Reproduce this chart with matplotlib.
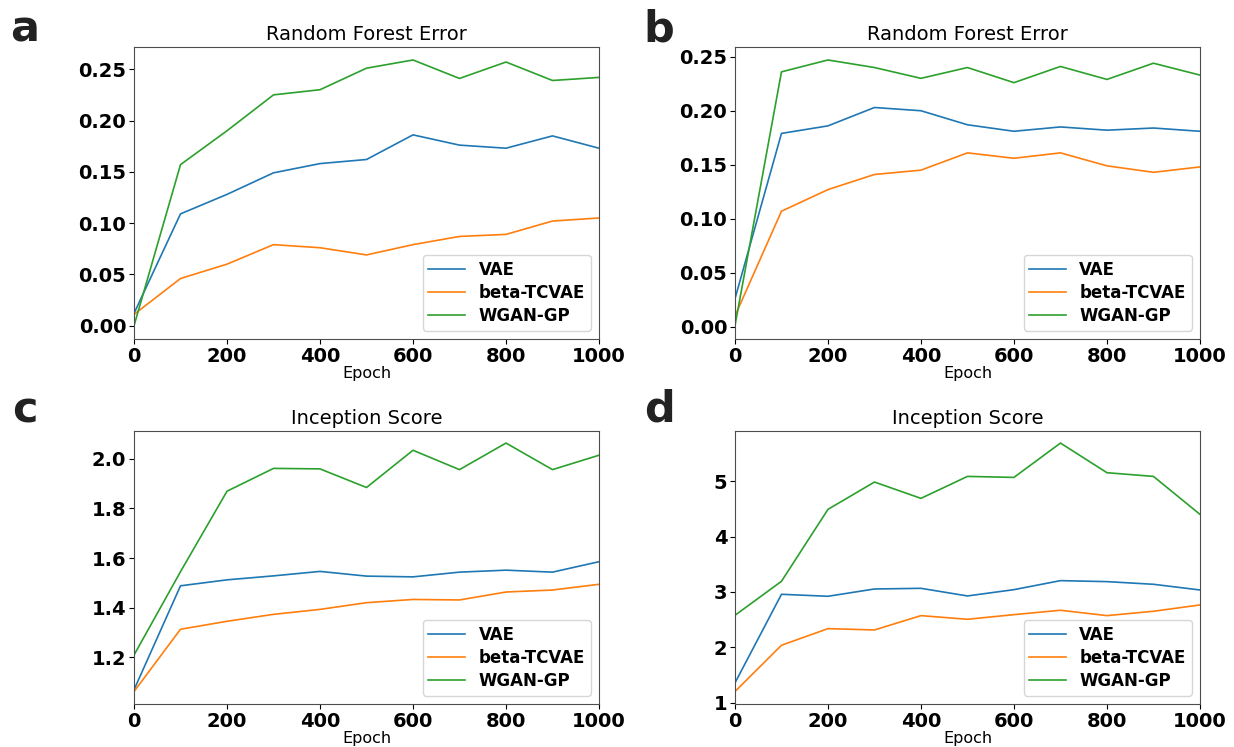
import matplotlib.pyplot as plt

epochs = [0, 100, 200, 300, 400, 500, 600, 700, 800, 900, 1000]
labels = ['VAE', 'beta-TCVAE', 'WGAN-GP']

# panel a - random forest error
rf_a_vae = [0.012, 0.109, 0.128, 0.149, 0.158, 0.162, 0.186, 0.176, 0.173, 0.185, 0.173]
rf_a_tcvae = [0.011, 0.046, 0.060, 0.079, 0.076, 0.069, 0.079, 0.087, 0.089, 0.102, 0.105]
rf_a_wgan = [0.000, 0.157, 0.190, 0.225, 0.230, 0.251, 0.259, 0.241, 0.257, 0.239, 0.242]

# panel b - random forest error
rf_b_vae = [0.026, 0.179, 0.186, 0.203, 0.200, 0.187, 0.181, 0.185, 0.182, 0.184, 0.181]
rf_b_tcvae = [0.010, 0.107, 0.127, 0.141, 0.145, 0.161, 0.156, 0.161, 0.149, 0.143, 0.148]
rf_b_wgan = [0.001, 0.236, 0.247, 0.240, 0.230, 0.240, 0.226, 0.241, 0.229, 0.244, 0.233]

# panel c - inception score
is_c_vae = [1.069, 1.488, 1.512, 1.528, 1.546, 1.527, 1.524, 1.543, 1.551, 1.543, 1.585]
is_c_tcvae = [1.062, 1.313, 1.345, 1.373, 1.393, 1.420, 1.433, 1.431, 1.463, 1.471, 1.494]
is_c_wgan = [1.209, 1.545, 1.869, 1.961, 1.959, 1.884, 2.034, 1.956, 2.063, 1.956, 2.014]

# panel d - inception score
is_d_vae = [1.355, 2.958, 2.922, 3.054, 3.066, 2.928, 3.042, 3.205, 3.187, 3.139, 3.036]
is_d_tcvae = [1.199, 2.036, 2.337, 2.313, 2.572, 2.506, 2.590, 2.669, 2.572, 2.651, 2.765]
is_d_wgan = [2.578, 3.193, 4.494, 4.988, 4.693, 5.090, 5.072, 5.693, 5.157, 5.090, 4.404]

panels = [
    ('a', 'Random Forest Error', [rf_a_vae, rf_a_tcvae, rf_a_wgan]),
    ('b', 'Random Forest Error', [rf_b_vae, rf_b_tcvae, rf_b_wgan]),
    ('c', 'Inception Score', [is_c_vae, is_c_tcvae, is_c_wgan]),
    ('d', 'Inception Score', [is_d_vae, is_d_tcvae, is_d_wgan]),
]

# axes rectangles in figure fractions (left, bottom, width, height)
rects = [
    [0.1086, 0.5462, 0.3768, 0.3913],
    [0.5956, 0.5462, 0.3768, 0.3913],
    [0.1086, 0.0576, 0.3768, 0.3659],
    [0.5956, 0.0576, 0.3768, 0.3659],
]
letter_pos = [(0.008, 0.945), (0.521, 0.945), (0.010, 0.434), (0.522, 0.436)]
colors = ['tab:blue', 'tab:orange', 'tab:green']

fig = plt.figure(figsize=(12.34, 7.47), dpi=100)

for (letter, title, series), rect, lp in zip(panels, rects, letter_pos):
    ax = fig.add_axes(rect)
    for vals, lab, c in zip(series, labels, colors):
        ax.plot(epochs, vals, color=c, label=lab, linewidth=1.2)
    ax.set_xlim(0, 1000)
    ax.set_title(title, fontsize=14, pad=5)
    ax.set_xlabel('Epoch', fontsize=11.5, labelpad=0)
    ax.tick_params(pad=2)
    for lbl in ax.get_xticklabels() + ax.get_yticklabels():
        lbl.set_fontweight('bold')
        lbl.set_fontsize(14)
    for sp in ax.spines.values():
        sp.set_color('0.3')
    ax.legend(loc='lower right', prop={'weight': 'bold', 'size': 12},
              labelspacing=0.3, borderpad=0.35, handlelength=2.2)
    fig.text(lp[0], lp[1], letter, fontsize=31, fontweight='heavy', color='#222222')

fig.savefig('out.png', dpi=100)
